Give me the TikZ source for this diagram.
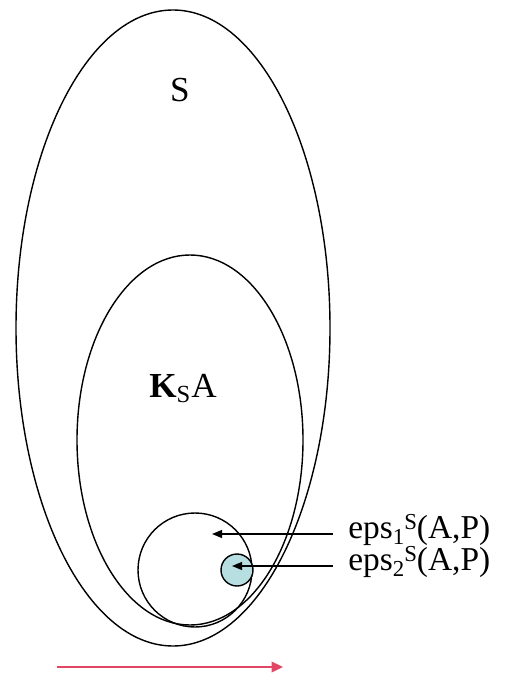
\documentclass[tikz,border=0pt]{standalone}
\usepackage{fontspec}
\setmainfont{Liberation Serif}
\usetikzlibrary{arrows.meta}
\usetikzlibrary{positioning}

\definecolor{discfill}{RGB}{183,222,225}
\definecolor{flowred}{RGB}{226,70,100}
% small indices for the labels
\newcommand{\lowr}[1]{\raisebox{-3.8pt}{\fontsize{13}{13}\selectfont #1}}
\newcommand{\highr}[1]{\raisebox{5pt}{\fontsize{13}{13}\selectfont #1}}

\begin{document}
\begin{tikzpicture}[x=0.02cm, y=-0.02cm]
\tikzstyle{set}=[draw=black, line width=0.8pt];
\tikzstyle{big}=[font=\fontsize{20}{24}\selectfont, inner sep=0pt];
\tikzstyle{lab}=[font=\fontsize{19}{22}\selectfont, anchor=mid west,
                 inner xsep=0.3cm, inner ysep=0pt];
\tikzstyle{ptr}=[-{Triangle[length=5.7pt,width=4.5pt]}, line width=0.8pt];
\tikzstyle{flow}=[-{Triangle[length=6.5pt,width=6pt]}, line width=1.1pt, draw=flowred, fill=flowred];
\useasboundingbox (0,0) rectangle (504,675);
% nested sets
\draw[set] (173,328) ellipse (157 and 318);
\draw[set] (190,440) ellipse (113 and 185);
\draw[set] (195,570) circle (57);
\draw[set, fill=discfill] (237,570) circle (16);
\node[big] (s) at (180,90) {S};
\node[big, anchor=base] (ksa) at (183,397) {\textbf{K}\textsubscript{S}A};
% labels pointing into the circles
\coordinate (t1) at (212,534);
\coordinate (t2) at (232,566);
\node[lab] (e1) at (333,534) {eps\lowr{1}\highr{S}(A,P)};
\node[lab] (e2) at (333,566) {eps\lowr{2}\highr{S}(A,P)};
\draw[ptr] (e1.mid west) -- (t1);
\draw[ptr] (e2.mid west) -- (t2);
% arrow under the sets
\coordinate (f0) at (57,667);
\coordinate (f1) at (283,667);
\draw[flow] (f0) -- (f1);
\end{tikzpicture}
\end{document}
